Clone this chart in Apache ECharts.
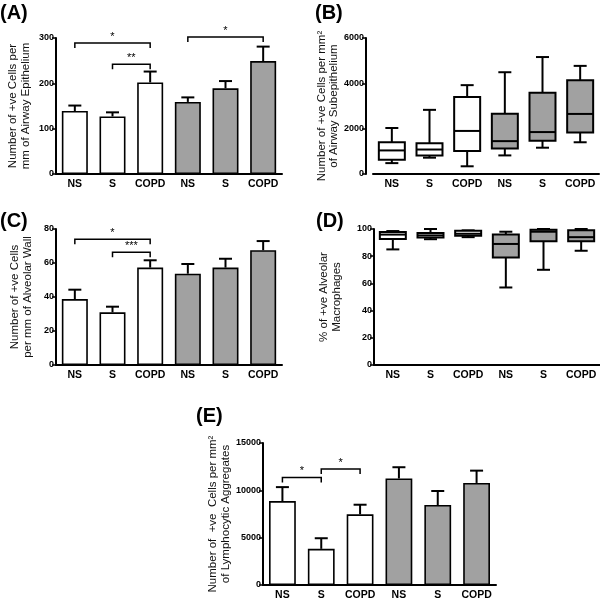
<!DOCTYPE html>
<html>
<head>
<meta charset="utf-8">
<title>Figure</title>
<script src="https://cdn.jsdelivr.net/npm/echarts@6/dist/echarts.min.js"></script>
<style>html,body{margin:0;padding:0;background:#fff}</style>
</head>
<body>
<div id="main" style="width:600px;height:602px;"></div>
<script type="text/javascript">
// categories (white = first three, grey = last three)
var cats = ['NS', 'S', 'COPD', 'NS', 'S', 'COPD'];
var fills = ['#ffffff', '#ffffff', '#ffffff', '#a1a1a1', '#a1a1a1', '#a1a1a1'];

// (A) airway epithelium: mean and top of error bar
var meanA = [139, 127, 202, 159, 189, 249];
var upA = [151, 136, 226, 169, 205, 281];
var sigA = [[0, 2, 289], [1, 2, 242], [3, 5, 302]];
var sigTextA = ['*', '**', '*'];

// (B) subepithelium box plots: min, q1, median, q3, max
var boxB = [
  [480, 630, 1040, 1400, 2030],
  [720, 820, 1080, 1360, 2830],
  [340, 1020, 1900, 3400, 3920],
  [820, 1120, 1450, 2660, 4490],
  [1160, 1470, 1850, 3590, 5160],
  [1400, 1830, 2650, 4140, 4770]
];

// (C) alveolar wall
var meanC = [38.8, 31, 57.3, 53.7, 57.3, 67.5];
var upC = [44.3, 34.3, 61.6, 59.4, 62.5, 72.9];
var sigC = [[0, 2, 74], [1, 2, 66.3]];
var sigTextC = ['*', '***'];

// (D) alveolar macrophages box plots
var boxD = [
  [85, 92.7, 95.9, 97.8, 98.5],
  [92.5, 93.8, 95.3, 97, 100],
  [94, 95, 96.5, 98.8, 99],
  [57, 79, 89, 96, 98],
  [70, 91, 98, 99.5, 100],
  [84, 91, 94, 99, 100]
];

// (E) lymphocytic aggregates
var meanE = [8870, 3820, 7470, 11250, 8450, 10780];
var upE = [10340, 4940, 8480, 12440, 9930, 12080];
var sigE = [[0, 1, 11350], [1, 2, 12250]];
var sigTextE = ['*', '*'];

var FONT = '"Liberation Sans", Arial, sans-serif';

function xAx(gi) {
  return {
    type: 'category', gridIndex: gi, data: cats,
    axisLine: { lineStyle: { color: '#000', width: 2 } },
    axisTick: { alignWithLabel: true, interval: 0, length: 4, lineStyle: { color: '#000', width: 1.5 } },
    axisLabel: { interval: 0, hideOverlap: false, color: '#000', fontWeight: 'bold', fontSize: 10.5, margin: 5, fontFamily: FONT },
    splitLine: { show: false }
  };
}

function yAx(gi, max, iv, name, gap, off) {
  return {
    type: 'value', gridIndex: gi, min: 0, max: max, interval: iv, offset: off || 0,
    name: name, nameLocation: 'middle', nameGap: gap, nameRotate: 90,
    nameTextStyle: { color: '#111', fontSize: 11.5, lineHeight: 12.5, fontFamily: FONT },
    axisLine: { show: true, lineStyle: { color: '#000', width: 2 } },
    axisTick: { show: true, length: 4, lineStyle: { color: '#000', width: 1.5 } },
    axisLabel: { color: '#000', fontWeight: 'bold', fontSize: 9, margin: 2, fontFamily: FONT,
      formatter: function (v) { return String(v); } },
    splitLine: { show: false }
  };
}

function barSeries(gi, vals) {
  return {
    type: 'bar', xAxisIndex: gi, yAxisIndex: gi, barWidth: '69%',
    data: vals.map(function (v, i) {
      return { value: v, itemStyle: { color: fills[i], borderColor: '#000', borderWidth: 1.6 } };
    }),
    silent: true
  };
}

function errSeries(gi, means, ups) {
  return {
    type: 'custom', xAxisIndex: gi, yAxisIndex: gi, z: 5, clip: false, silent: true,
    data: means.map(function (m, i) { return [i, m, ups[i]]; }),
    renderItem: function (params, api) {
      var p0 = api.coord([api.value(0), api.value(1)]);
      var p1 = api.coord([api.value(0), api.value(2)]);
      var hw = 6.5;
      return {
        type: 'group', children: [
          { type: 'line', shape: { x1: p0[0], y1: p0[1], x2: p1[0], y2: p1[1] }, style: { stroke: '#000', lineWidth: 2 } },
          { type: 'line', shape: { x1: p1[0] - hw, y1: p1[1], x2: p1[0] + hw, y2: p1[1] }, style: { stroke: '#000', lineWidth: 2 } }
        ]
      };
    }
  };
}

function sigSeries(gi, sig, texts) {
  return {
    type: 'custom', xAxisIndex: gi, yAxisIndex: gi, z: 6, clip: false, silent: true,
    data: sig,
    renderItem: function (params, api) {
      var a = api.coord([api.value(0), api.value(2)]);
      var b = api.coord([api.value(1), api.value(2)]);
      var d = 5;
      return {
        type: 'group', children: [
          { type: 'polyline', shape: { points: [[a[0], a[1] + d], [a[0], a[1]], [b[0], b[1]], [b[0], b[1] + d]] },
            style: { stroke: '#000', lineWidth: 1.5, fill: null } },
          { type: 'text', x: (a[0] + b[0]) / 2, y: a[1] - 1,
            style: { text: texts[params.dataIndex], fill: '#000', fontSize: 11, fontFamily: FONT,
                     align: 'center', verticalAlign: 'bottom' } }
        ]
      };
    }
  };
}

function boxSeries(gi, boxes) {
  return {
    type: 'custom', xAxisIndex: gi, yAxisIndex: gi, clip: false, silent: true,
    data: boxes.map(function (b, i) { return [i].concat(b); }),
    renderItem: function (params, api) {
      var i = api.value(0);
      var pMin = api.coord([i, api.value(1)]);
      var pQ1 = api.coord([i, api.value(2)]);
      var pMed = api.coord([i, api.value(3)]);
      var pQ3 = api.coord([i, api.value(4)]);
      var pMax = api.coord([i, api.value(5)]);
      var w = api.size([1, 0])[0] * 0.69;
      var x = pQ1[0];
      var cap = 6.5;
      var st = { stroke: '#000', lineWidth: 2 };
      return {
        type: 'group', children: [
          { type: 'line', shape: { x1: x, y1: pQ1[1], x2: x, y2: pMin[1] }, style: st },
          { type: 'line', shape: { x1: x, y1: pQ3[1], x2: x, y2: pMax[1] }, style: st },
          { type: 'line', shape: { x1: x - cap, y1: pMin[1], x2: x + cap, y2: pMin[1] }, style: st },
          { type: 'line', shape: { x1: x - cap, y1: pMax[1], x2: x + cap, y2: pMax[1] }, style: st },
          { type: 'rect', shape: { x: x - w / 2, y: pQ3[1], width: w, height: pQ1[1] - pQ3[1] },
            style: { fill: fills[params.dataIndex], stroke: '#000', lineWidth: 2 } },
          { type: 'line', shape: { x1: x - w / 2, y1: pMed[1], x2: x + w / 2, y2: pMed[1] }, style: st }
        ]
      };
    }
  };
}

function panelLabel(txt, left, top) {
  return { type: 'text', left: left, top: top,
    style: { text: txt, fill: '#000', fontSize: 20, fontWeight: 'bold', fontFamily: FONT } };
}

var myChart = echarts.init(document.getElementById('main'), null, { renderer: 'canvas' });

var option = {
  backgroundColor: '#fff',
  animation: false,
  textStyle: { fontFamily: FONT },
  grid: [
    { left: 56, top: 38, width: 226, height: 136, outerBoundsMode: 'none' },
    { left: 373, top: 38, width: 226, height: 136, outerBoundsMode: 'none' },
    { left: 56, top: 229, width: 226, height: 136, outerBoundsMode: 'none' },
    { left: 374, top: 229, width: 226, height: 136, outerBoundsMode: 'none' },
    { left: 263, top: 443, width: 233, height: 142, outerBoundsMode: 'none' }
  ],
  xAxis: [xAx(0), xAx(1), xAx(2), xAx(3), xAx(4)],
  yAxis: [
    yAx(0, 300, 100, 'Number of +ve Cells per\nmm of Airway Epithelium', 24),
    yAx(1, 6000, 2000, 'Number of +ve Cells per mm\u00b2\nof Airway Subepithelium', 16, 7),
    yAx(2, 80, 20, 'Number of +ve Cells\nper mm of Alveolar Wall', 22),
    yAx(3, 100, 20, '% of +ve Alveolar\nMacrophages', 31),
    yAx(4, 15000, 5000, 'Number of  +ve  Cells per mm\u00b2\nof Lymphocytic Aggregates', 27)
  ],
  series: [
    barSeries(0, meanA), errSeries(0, meanA, upA), sigSeries(0, sigA, sigTextA),
    boxSeries(1, boxB),
    barSeries(2, meanC), errSeries(2, meanC, upC), sigSeries(2, sigC, sigTextC),
    boxSeries(3, boxD),
    barSeries(4, meanE), errSeries(4, meanE, upE), sigSeries(4, sigE, sigTextE)
  ],
  graphic: [
    panelLabel('(A)', 0, 3),
    panelLabel('(B)', 315, 3),
    panelLabel('(C)', 0, 211),
    panelLabel('(D)', 316, 211),
    panelLabel('(E)', 196, 406)
  ]
};

option && myChart.setOption(option);
</script>
</body>
</html>
